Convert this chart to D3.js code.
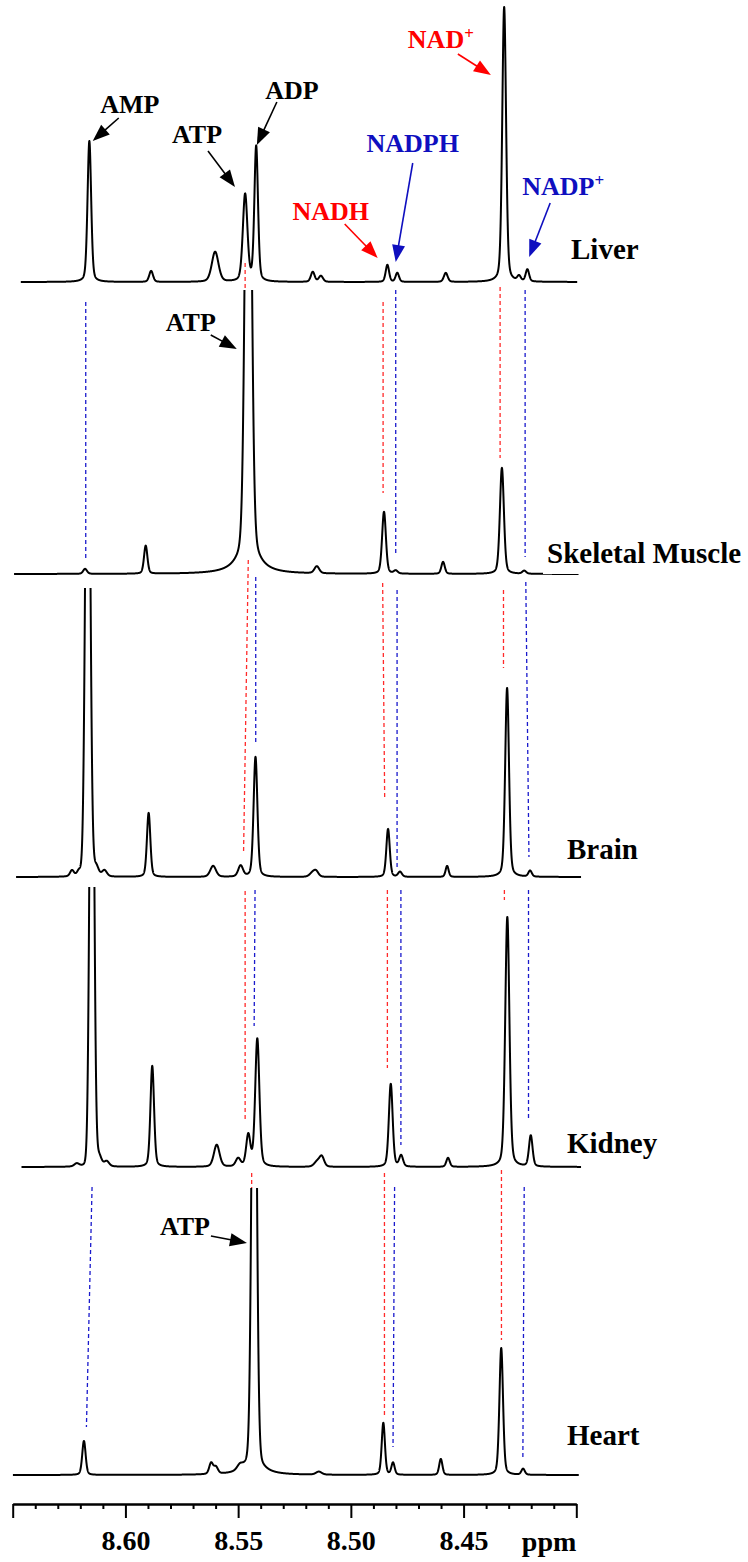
<!DOCTYPE html>
<html>
<head>
<meta charset="utf-8">
<script src="https://cdn.jsdelivr.net/npm/d3@7"></script>
<style>
  body { margin: 0; background: #fff; }
  svg { display: block; font-family: "Liberation Serif", "Times New Roman", serif; font-weight: bold; }
</style>
</head>
<body>
<svg></svg>
<script>
const size = {w: 748, h: 1562};

// spectra, top to bottom
const tissues = ['Liver', 'Skeletal Muscle', 'Brain', 'Kidney', 'Heart'];
// vertical stacking offset of each spectrum (intensity units)
const stackOffsets = [1193, 901, 598, 308, 0];
// acquired window of each trace (ppm)
const traceStart = [8.6464, 8.6494, 8.6485, 8.6461, 8.6499];
const traceEnd   = [8.3996, 8.3990, 8.3979, 8.3979, 8.3989];
// intensity above which each trace is cut off
const clipLevels = [290, 284, 289, 280, 287];

// peak tables: [ppm, height, fwhm in ppm, lorentz fraction]
const liverPeaks = [
    [8.6160, 141, 0.0019], [8.5886, 11, 0.0020], [8.5602, 30, 0.0035],
    [8.5469, 87, 0.0024], [8.5420, 135, 0.0019], [8.5169, 10, 0.0020],
    [8.5133, 6, 0.0022], [8.4838, 17, 0.0018], [8.4794, 9, 0.0018],
    [8.4579, 9, 0.0020], [8.4320, 275, 0.0020], [8.4254, 5, 0.0018],
    [8.4217, 12, 0.0018]
];
const musclePeaks = [
    [8.6179, 5, 0.0020], [8.5910, 28, 0.0018], [8.5455, 600, 0.0030, 0.05],
    [8.5455, 45, 0.0080, 1], [8.5151, 7, 0.0025], [8.4853, 62, 0.0020],
    [8.4801, 3, 0.0020], [8.4591, 12, 0.0018], [8.4330, 106, 0.0021],
    [8.4231, 3, 0.0020]
];
const brainPeaks = [
    [8.6237, 6, 0.0020], [8.6206, 5, 0.0020], [8.6167, 600, 0.0024, 0.05],
    [8.6130, 10, 0.0025], [8.6093, 6, 0.0025], [8.5897, 64, 0.0018],
    [8.5611, 11, 0.0030], [8.5489, 11, 0.0025], [8.5423, 120, 0.0020],
    [8.5170, 4, 0.0030], [8.5154, 5, 0.0025], [8.4835, 48, 0.0018],
    [8.4782, 5, 0.0020], [8.4573, 11, 0.0016], [8.4307, 189, 0.0020],
    [8.4205, 6, 0.0018]
];
const kidneyPeaks = [
    [8.6216, 3, 0.0025], [8.6149, 600, 0.0022, 0.05], [8.6117, 10, 0.0025],
    [8.6083, 5, 0.0025], [8.5881, 101, 0.0019], [8.5595, 22, 0.0030],
    [8.5500, 8, 0.0025], [8.5455, 31, 0.0022], [8.5415, 128, 0.0022],
    [8.5150, 5, 0.0030], [8.5129, 10, 0.0025], [8.4823, 83, 0.0020],
    [8.4777, 11, 0.0020], [8.4569, 9, 0.0018], [8.4306, 250, 0.0022],
    [8.4202, 31, 0.0019]
];
const heartPeaks = [
    [8.6184, 34, 0.0018], [8.5620, 11, 0.0020], [8.5599, 7, 0.0022],
    [8.5492, 5, 0.0030], [8.5429, 600, 0.0024, 0.08], [8.5432, 17, 0.0080, 1],
    [8.5142, 3, 0.0030], [8.4856, 52, 0.0017], [8.4813, 12, 0.0017],
    [8.4601, 16, 0.0017], [8.4333, 127, 0.0019], [8.4236, 6, 0.0018]
];
const peakTables = [liverPeaks, musclePeaks, brainPeaks, kidneyPeaks, heartPeaks];

// axis ticks
const majorTicks = [8.65, 8.60, 8.55, 8.50, 8.45, 8.40];
const majorLabels = ['', '8.60', '8.55', '8.50', '8.45', ''];
const minorTicks = [8.64, 8.63, 8.62, 8.61, 8.59, 8.58, 8.57, 8.56, 8.54, 8.53,
                    8.52, 8.51, 8.49, 8.48, 8.47, 8.46, 8.44, 8.43, 8.42, 8.41];

// dashed guides: compound, spectrum they drop into, top ppm/level, bottom ppm/level
const guides = [
    ['AMP', 1, 8.6176, 272, 8.6176, 14], ['ATP', 1, 8.5469, 311, 8.5469, 284],
    ['NADH', 1, 8.4857, 272, 8.4857, 81], ['NADPH', 1, 8.4801, 284, 8.4801, 21],
    ['NAD+', 1, 8.4338, 287, 8.4338, 116], ['NADP+', 1, 8.4227, 284, 8.4227, 17],
    ['ATP', 2, 8.5455, 317, 8.5476, 24], ['ADP', 2, 8.5422, 300, 8.5422, 135],
    ['NADH', 2, 8.4859, 294, 8.4850, 79], ['NADPH', 2, 8.4795, 287, 8.4795, 7],
    ['NAD+', 2, 8.4323, 287, 8.4323, 209], ['NADP+', 2, 8.4224, 295, 8.4210, 20],
    ['ATP', 3, 8.5469, 276, 8.5469, 47], ['ADP', 3, 8.5425, 277, 8.5429, 141],
    ['NADH', 3, 8.4838, 277, 8.4838, 99], ['NADPH', 3, 8.4778, 277, 8.4778, 22],
    ['NAD+', 3, 8.4319, 277, 8.4319, 267], ['NADP+', 3, 8.4212, 277, 8.4212, 47],
    ['AMP', 4, 8.6148, 288, 8.6173, 48], ['ATP', 4, 8.5440, 302, 8.5440, 287],
    ['NADH', 4, 8.4851, 302, 8.4851, 57], ['NADPH', 4, 8.4806, 288, 8.4813, 28],
    ['NAD+', 4, 8.4332, 305, 8.4332, 135], ['NADP+', 4, 8.4231, 288, 8.4237, 17]
];
const guideColour = {AMP: '#1a1acc', ADP: '#1a1acc', NADPH: '#1a1acc', 'NADP+': '#1a1acc',
                     ATP: '#ff2a2a', NADH: '#ff2a2a', 'NAD+': '#ff2a2a'};

// peak assignments: arrow tip at (spectrum, ppm, level); tail and text are offsets in px
const notes = [
    {text: 'AMP', sup: '', t: 0, ppm: 8.6145, lv: 141, tail: [26, -23], lab: [37, -28], col: '#000'},
    {text: 'ATP', sup: '', t: 0, ppm: 8.5514, lv: 95, tail: [-27, -36], lab: [-38, -44], col: '#000'},
    {text: 'ADP', sup: '', t: 0, ppm: 8.5417, lv: 137, tail: [20, -43], lab: [35, -46], col: '#000'},
    {text: 'NADH', sup: '', t: 0, ppm: 8.4881, lv: 24, tail: [-33, -34], lab: [-47, -38], col: '#ff0000'},
    {text: 'NADPH', sup: '', t: 0, ppm: 8.4801, lv: 20, tail: [17, -99], lab: [17, -110], col: '#0f0fbf'},
    {text: 'NAD', sup: '+', t: 0, ppm: 8.4379, lv: 207, tail: [-33, -21], lab: [-50, -27], col: '#ff0000'},
    {text: 'NADP', sup: '+', t: 0, ppm: 8.4209, lv: 25, tail: [21, -54], lab: [34, -62], col: '#0f0fbf'},
    {text: 'ATP', sup: '', t: 1, ppm: 8.5506, lv: 225, tail: [-26, -14], lab: [-46, -18], col: '#000'},
    {text: 'ATP', sup: '', t: 4, ppm: 8.5461, lv: 232, tail: [-36, -7], lab: [-62, -8], col: '#000'}
];

// tissue name placement (px left edge, lift above own baseline)
const nameLayout = [[571, 23], [547, 11], [567, 18], [567, 14], [567, 30]];

const svg = d3.select('svg').attr('width', size.w).attr('height', size.h);

const x = d3.scaleLinear().domain([8.65, 8.40]).range([12.7, 576.3]);
const y = d3.scaleLinear().domain([0, 1480]).range([1475, -5]);

function lineShape(pk, p) {
    const [c, h, w, eta = 0.3] = pk;
    const u = Math.pow(2 * (p - c) / w, 2);
    return h * (eta / (1 + u) + (1 - eta) * Math.exp(-Math.LN2 * u));
}

// dashed guides (under the traces)
svg.append('g').selectAll('line')
    .data(guides)
    .join('line')
    .attr('x1', d => x(d[2]))
    .attr('y1', d => y(stackOffsets[d[1]] + d[3]))
    .attr('x2', d => x(d[4]))
    .attr('y2', d => y(stackOffsets[d[1]] + d[5]))
    .attr('stroke', d => guideColour[d[0]])
    .attr('stroke-width', 1.3)
    .attr('stroke-dasharray', '4,3');

// spectra
const defs = svg.append('defs');
tissues.forEach((name, i) => {
    defs.append('clipPath').attr('id', 'clip' + i)
        .append('rect')
        .attr('x', 0).attr('width', size.w)
        .attr('y', y(stackOffsets[i] + clipLevels[i]))
        .attr('height', y(stackOffsets[i]) - y(stackOffsets[i] + clipLevels[i]) + 20);

    const grid = d3.range(traceStart[i], traceEnd[i], -0.00004);
    const pts = grid.map(p => [p, d3.sum(peakTables[i], pk => lineShape(pk, p))]);

    svg.append('path')
        .datum(pts)
        .attr('clip-path', `url(#clip${i})`)
        .attr('fill', 'none')
        .attr('stroke', '#000')
        .attr('stroke-width', 2)
        .attr('stroke-linejoin', 'round')
        .attr('d', d3.line().x(d => x(d[0])).y(d => y(stackOffsets[i] + d[1])));
});

// arrows + assignment labels
function head(x1, y1, x2, y2) {
    const a = Math.atan2(y2 - y1, x2 - x1), len = 17, hw = 6.5;
    const bx = x2 - len * Math.cos(a), by = y2 - len * Math.sin(a);
    const px = -Math.sin(a) * hw, py = Math.cos(a) * hw;
    return `M${x2},${y2}L${bx + px},${by + py}L${bx - px},${by - py}Z`;
}
const noteG = svg.append('g');
notes.forEach(n => {
    const tx = x(n.ppm), ty = y(stackOffsets[n.t] + n.lv);
    const sx = tx + n.tail[0], sy = ty + n.tail[1];
    const a = Math.atan2(ty - sy, tx - sx);
    noteG.append('line')
        .attr('x1', sx).attr('y1', sy)
        .attr('x2', tx - 14 * Math.cos(a)).attr('y2', ty - 14 * Math.sin(a))
        .attr('stroke', n.col).attr('stroke-width', 1.6);
    noteG.append('path').attr('d', head(sx, sy, tx, ty)).attr('fill', n.col);
    const t = noteG.append('text')
        .attr('x', tx + n.lab[0]).attr('y', ty + n.lab[1])
        .attr('text-anchor', 'middle')
        .attr('font-size', 26)
        .attr('fill', n.col)
        .text(n.text);
    if (n.sup) t.append('tspan').attr('font-size', 17).attr('dy', -9).text(n.sup);
});

// tissue names, with a white box behind
tissues.forEach((name, i) => {
    const g = svg.append('g');
    const t = g.append('text')
        .attr('x', nameLayout[i][0])
        .attr('y', y(stackOffsets[i]) - nameLayout[i][1])
        .attr('font-size', 29)
        .attr('fill', '#000')
        .text(name);
    const b = t.node().getBBox();
    g.insert('rect', 'text')
        .attr('x', b.x - 4).attr('y', b.y - 4)
        .attr('width', b.width + 8).attr('height', b.height + 9)
        .attr('fill', '#fff');
});

// ppm axis
const axisY = 1504;
const minorAxis = svg.append('g').attr('transform', `translate(0,${axisY})`)
    .call(d3.axisBottom(x).tickValues(minorTicks).tickSize(5).tickSizeOuter(0).tickFormat(''));
const majorAxis = svg.append('g').attr('transform', `translate(0,${axisY})`)
    .call(d3.axisBottom(x).tickValues(majorTicks).tickSize(14).tickPadding(12).tickSizeOuter(0)
        .tickFormat((d, i) => majorLabels[i]));
[minorAxis, majorAxis].forEach(g => {
    g.attr('font-family', null).attr('font-size', null);
    g.selectAll('path, line').attr('stroke', '#000').attr('stroke-width', 2);
});
majorAxis.selectAll('text').attr('font-size', 28).attr('fill', '#000');

svg.append('text')
    .attr('x', x(8.40))
    .attr('y', axisY + 47)
    .attr('text-anchor', 'end')
    .attr('font-size', 28)
    .text('ppm');
</script>
</body>
</html>
